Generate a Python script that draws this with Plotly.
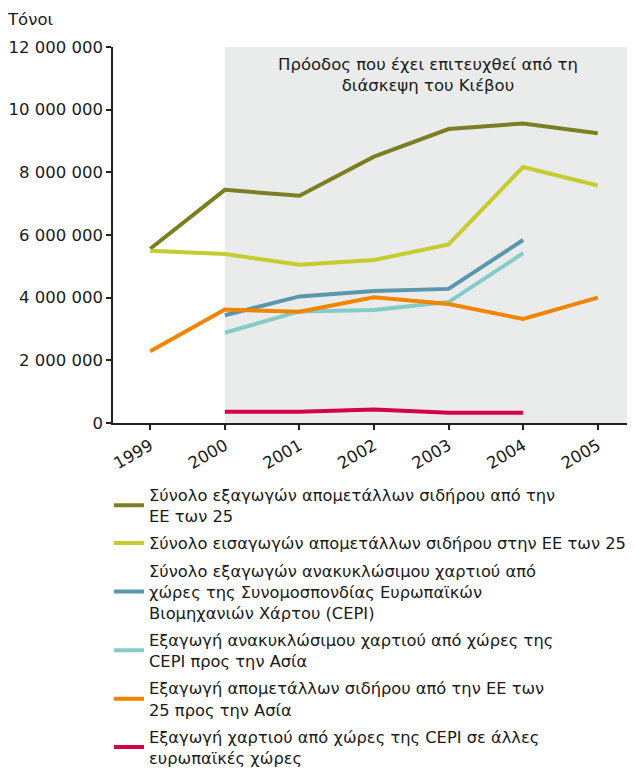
import plotly.graph_objects as go

years = [1999, 2000, 2001, 2002, 2003, 2004, 2005]

eu25_iron_exports = [5.56e6, 7.44e6, 7.25e6, 8.50e6, 9.38e6, 9.56e6, 9.25e6]
eu25_iron_imports = [5.50e6, 5.39e6, 5.05e6, 5.20e6, 5.70e6, 8.17e6, 7.58e6]
cepi_paper_exports = [None, 3.44e6, 4.04e6, 4.21e6, 4.28e6, 5.84e6, None]
cepi_paper_asia = [None, 2.88e6, 3.56e6, 3.61e6, 3.86e6, 5.42e6, None]
eu25_iron_asia = [2.29e6, 3.62e6, 3.55e6, 4.01e6, 3.80e6, 3.32e6, 4.00e6]
cepi_paper_europe = [None, 0.36e6, 0.36e6, 0.43e6, 0.33e6, 0.33e6, None]

series_names = [
    "Σύνολο εξαγωγών απομετάλλων σιδήρου από την<br>ΕΕ των 25",
    "Σύνολο εισαγωγών απομετάλλων σιδήρου στην ΕΕ των 25",
    "Σύνολο εξαγωγών ανακυκλώσιμου χαρτιού από<br>χώρες της Συνομοσπονδίας Ευρωπαϊκών<br>Βιομηχανιών Χάρτου (CEPI)",
    "Εξαγωγή ανακυκλώσιμου χαρτιού από χώρες της<br>CEPI προς την Ασία",
    "Εξαγωγή απομετάλλων σιδήρου από την ΕΕ των<br>25 προς την Ασία",
    "Εξαγωγή χαρτιού από χώρες της CEPI σε άλλες<br>ευρωπαϊκές χώρες",
]
series_values = [eu25_iron_exports, eu25_iron_imports, cepi_paper_exports,
                 cepi_paper_asia, eu25_iron_asia, cepi_paper_europe]
colors = ["#7B7F22", "#C5CC2E", "#5A97AC", "#84CCC7", "#F28500", "#D40045"]

y_tickvals = [0, 2e6, 4e6, 6e6, 8e6, 10e6, 12e6]
annotation_text = "Πρόοδος που έχει επιτευχθεί από τη<br>διάσκεψη του Κιέβου"
y_unit = "Τόνοι"

FONT = "DejaVu Sans, Verdana, sans-serif"
TXT = "#1a1a1a"

fig = go.Figure()
for i, (name, vals, col) in enumerate(zip(series_names, series_values, colors)):
    fig.add_trace(go.Scatter(
        x=years, y=vals, name=name, mode="lines",
        line=dict(color=col, width=4),
        legendgroup=f"g{i}",
        connectgaps=False,
    ))

fig.add_shape(type="rect", xref="x", yref="y", x0=2000, x1=2005.5, y0=0, y1=12e6,
              fillcolor="#EAECEB", line=dict(width=0), layer="below")

fig.add_annotation(x=2002.72, y=11.8e6, xref="x", yref="y", text=annotation_text,
                   showarrow=False, yanchor="top", align="center",
                   font=dict(family=FONT, size=16.5, color=TXT))
fig.add_annotation(x=-0.207, y=1.072, xref="paper", yref="paper", text=y_unit,
                   showarrow=False, xanchor="left", yanchor="middle",
                   font=dict(family=FONT, size=16.5, color=TXT))

# page body has an 8px margin, so the figure is sized to fit inside the window
fig.update_layout(
    width=627, height=764,
    margin=dict(l=105, r=0, t=39, b=349, autoexpand=False),
    paper_bgcolor="white", plot_bgcolor="white",
    separators=", ",
    font=dict(family=FONT, size=16, color=TXT),
    showlegend=True,
    legend=dict(
        x=-0.0077, y=-0.145, xanchor="left", yanchor="top",
        font=dict(family=FONT, size=16.3, color=TXT),
        tracegroupgap=3, bgcolor="rgba(0,0,0,0)",
    ),
)
fig.update_xaxes(range=[1998.5, 2005.5], tickvals=years, ticktext=[str(y) for y in years],
                 tickangle=-30, ticks="outside", ticklen=5, tickwidth=1.5, tickcolor="#222",
                 showline=True, linecolor="#222", linewidth=1.5, showgrid=False, zeroline=False,
                 tickfont=dict(family=FONT, size=16.5, color=TXT))
fig.update_yaxes(range=[0, 12e6], tickvals=y_tickvals, tickformat=",d",
                 ticks="outside", ticklen=5, tickwidth=1.5, tickcolor="#222",
                 showline=True, linecolor="#222", linewidth=1.5, showgrid=False, zeroline=False,
                 tickfont=dict(family=FONT, size=16.5, color=TXT))

fig.write_html("out.html")
